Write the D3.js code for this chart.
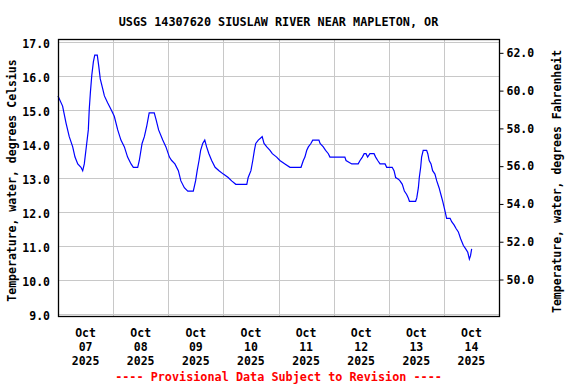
<!DOCTYPE html>
<html>
<head>
<meta charset="utf-8">
<script src="https://cdn.jsdelivr.net/npm/d3@7"></script>
<style>
  body { margin: 0; background: #fff; }
  text { font-family: "DejaVu Sans Mono", "Liberation Mono", monospace; font-weight: bold; }
</style>
</head>
<body>
<svg id="chart" width="576" height="384"></svg>
<script>
// hours since 2025-10-07 00:00 and water temperature (deg C)
const hours = [0, 2.0, 3.5, 4.9, 6.4, 7.4, 8.6, 10.0, 10.75, 11.45, 12.5, 13.2, 13.6, 14.1, 14.7, 15.4, 16.0, 17.1, 17.7,
  18.4, 19.5, 20.2, 21.6, 23.1, 24.5, 26.0, 27.4, 28.9, 30.3, 31.8, 32.8, 34.7, 35.4, 36.6, 37.6, 38.6, 39.7, 41.9,
  42.7, 43.8, 45.6, 47.0, 48.5, 49.5, 50.9, 52.4, 53.5, 55.0, 56.5, 58.9, 59.9, 60.6, 61.4, 62.1, 63.0, 63.9, 64.7,
  65.7, 66.9, 68.4, 70.1, 72.0, 74.1, 75.6, 77.4, 82.2, 82.8, 84.0, 84.8, 85.5, 86.1, 87.2, 88.9, 89.7, 90.9, 92.3,
  93.3, 95.2, 96.6, 98.8, 101.0, 105.8, 106.8, 107.5, 108.3, 109.0, 110.1, 110.9, 113.6, 114.1, 115.5, 116.5, 117.7,
  118.4, 124.9, 125.4, 127.9, 130.7, 131.5, 132.5, 133.3, 134.1, 134.8, 135.8, 137.6, 138.3, 139.2, 140.2, 142.4,
  143.1, 145.5, 146.3, 147.0, 148.2, 148.9, 149.9, 150.8, 151.8, 152.5, 153.0, 155.7, 156.2, 156.9, 157.3, 157.9,
  158.3, 159.0, 160.5, 161.0, 161.6, 162.4, 163.1, 164.1, 164.9, 165.9, 166.7, 167.5, 168.2, 169.2, 170.7, 171.4,
  172.5, 173.3, 174.3, 175.3, 176.5, 177.5, 178.4, 179.1, 179.6, 180.1];
const tempC = [15.4, 15.1, 14.6, 14.2, 13.9, 13.6, 13.4, 13.3, 13.2, 13.4, 14.0, 14.4, 15.0, 15.5, 16.0, 16.4, 16.6, 16.6, 16.3,
  15.9, 15.6, 15.4, 15.2, 15.0, 14.8, 14.4, 14.1, 13.9, 13.6, 13.4, 13.3, 13.3, 13.5, 14.0, 14.2, 14.5, 14.9, 14.9,
  14.7, 14.4, 14.1, 13.9, 13.6, 13.5, 13.4, 13.2, 12.9, 12.7, 12.6, 12.6, 12.9, 13.2, 13.5, 13.8, 14.0, 14.1, 13.9,
  13.7, 13.5, 13.3, 13.2, 13.1, 13.0, 12.9, 12.8, 12.8, 13.0, 13.2, 13.5, 13.8, 14.0, 14.1, 14.2, 14.0, 13.9, 13.8,
  13.7, 13.6, 13.5, 13.4, 13.3, 13.3, 13.5, 13.6, 13.8, 13.9, 14.0, 14.1, 14.1, 14.0, 13.9, 13.8, 13.7,
  13.6, 13.6, 13.5, 13.4, 13.4, 13.5, 13.6, 13.7, 13.7, 13.6, 13.7, 13.7, 13.6, 13.5, 13.4, 13.4,
  13.3, 13.3, 13.2, 13.0, 12.95, 12.9, 12.8, 12.6, 12.5, 12.4, 12.3, 12.3, 12.4, 12.7, 13.0, 13.3,
  13.6, 13.8, 13.8, 13.7, 13.5, 13.4, 13.2, 13.1, 12.9, 12.7, 12.5, 12.3, 12.1, 11.8, 11.8, 11.7,
  11.6, 11.5, 11.4, 11.2, 11.0, 10.9, 10.8, 10.6, 10.7, 10.9];

const celsiusTicks = [9, 10, 11, 12, 13, 14, 15, 16, 17];
const fahrenheitTicks = [50, 52, 54, 56, 58, 60, 62];
const dayLabels = ["2025-10-07", "2025-10-08", "2025-10-09", "2025-10-10", "2025-10-11", "2025-10-12", "2025-10-13", "2025-10-14"];

const title = "USGS 14307620 SIUSLAW RIVER NEAR MAPLETON, OR";
const leftLabel = "Temperature, water, degrees Celsius";
const rightLabel = "Temperature, water, degrees Fahrenheit";
const footnote = "---- Provisional Data Subject to Revision ----";

const plotL = 58, plotR = 499, plotT = 39, plotB = 316;
const start = new Date(2025, 9, 7);
const end = new Date(2025, 9, 15);
const parse = d3.timeParse("%Y-%m-%d");

const data = hours.map((h, i) => ({ t: d3.timeMinute.offset(start, Math.round(h * 60)), v: tempC[i] }));

const x = d3.scaleTime().domain([start, end]).range([plotL, plotR]);
const y = d3.scaleLinear().domain([9, 17]).range([313.5, 41.5]);
const yF = d3.scaleLinear().domain([9 * 1.8 + 32, 17 * 1.8 + 32]).range(y.range());

const svg = d3.select("#chart");

// grid
const midnights = d3.timeDay.range(d3.timeDay.offset(start, 1), end);
svg.append("g").selectAll("line")
    .data(midnights)
    .join("line")
    .attr("x1", d => Math.round(x(d)) + 0.5).attr("x2", d => Math.round(x(d)) + 0.5)
    .attr("y1", plotT).attr("y2", plotB)
    .attr("stroke", "#c8c8c8").attr("stroke-width", 1);

svg.append("g").selectAll("line")
    .data(celsiusTicks)
    .join("line")
    .attr("x1", plotL).attr("x2", plotR)
    .attr("y1", d => Math.round(y(d)) + 0.5).attr("y2", d => Math.round(y(d)) + 0.5)
    .attr("stroke", "#c8c8c8").attr("stroke-width", 1);

// data line
const line = d3.line()
    .x(d => x(d.t))
    .y(d => y(d.v));

svg.append("path")
    .datum(data)
    .attr("d", line)
    .attr("fill", "none")
    .attr("stroke", "#0000ff")
    .attr("stroke-width", 1.2);

// frame
svg.append("rect")
    .attr("x", plotL + 0.5).attr("y", plotT + 0.5)
    .attr("width", plotR - plotL).attr("height", plotB - plotT)
    .attr("fill", "none").attr("stroke", "#000").attr("stroke-width", 1.3);

// left axis labels
svg.append("g").selectAll("text")
    .data(celsiusTicks)
    .join("text")
    .attr("x", 50)
    .attr("y", d => y(d) + 6)
    .attr("text-anchor", "end")
    .attr("font-size", 11.5)
    .text(d => d3.format(".1f")(d));

// right axis
const yAxisR = d3.axisRight(yF).tickValues(fahrenheitTicks).tickSize(4).tickPadding(3)
    .tickFormat(d3.format(".1f"));
svg.append("g")
    .attr("transform", `translate(${plotR + 0.5},0)`)
    .call(yAxisR)
    .call(g => g.select(".domain").remove())
    .call(g => g.selectAll("text")
        .attr("font-family", "DejaVu Sans Mono")
        .attr("font-weight", "bold")
        .attr("font-size", 11.5)
        .attr("fill", "#000"));

// x labels
const xl = svg.append("g").selectAll("text")
    .data(dayLabels.map(parse))
    .join("text")
    .attr("text-anchor", "middle")
    .attr("font-size", 11.5)
    .attr("transform", d => `translate(${x(d3.timeHour.offset(d, 12))},0)`);
xl.append("tspan").attr("x", 0).attr("y", 337).text(d => d3.timeFormat("%b")(d));
xl.append("tspan").attr("x", 0).attr("y", 351).text(d => d3.timeFormat("%d")(d));
xl.append("tspan").attr("x", 0).attr("y", 365).text(d => d3.timeFormat("%Y")(d));

// titles
svg.append("text")
    .attr("x", (plotL + plotR) / 2).attr("y", 26)
    .attr("text-anchor", "middle")
    .attr("font-size", 11.8)
    .text(title);

svg.append("text")
    .attr("transform", `translate(16,${(plotT + plotB) / 2 + 3}) rotate(-90)`)
    .attr("text-anchor", "middle")
    .attr("font-size", 11.5)
    .text(leftLabel);

svg.append("text")
    .attr("transform", `translate(561,${(plotT + plotB) / 2 + 4}) rotate(-90)`)
    .attr("text-anchor", "middle")
    .attr("font-size", 11.5)
    .text(rightLabel);

svg.append("text")
    .attr("x", (plotL + plotR) / 2).attr("y", 381)
    .attr("text-anchor", "middle")
    .attr("font-size", 11.8)
    .attr("fill", "#ff0000")
    .text(footnote);
</script>
</body>
</html>
